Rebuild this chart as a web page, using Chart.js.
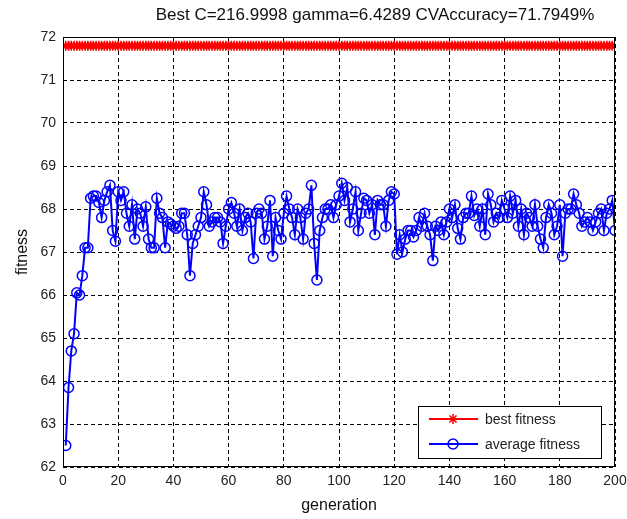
<!DOCTYPE html>
<html>
<head>
<meta charset="utf-8">
<script src="https://cdn.jsdelivr.net/npm/chart.js@4/dist/chart.umd.min.js"></script>
<style>
  html, body { margin: 0; padding: 0; background: #fff; }
  #wrap { width: 627px; height: 519px; }
</style>
</head>
<body>
<div id="wrap"><canvas id="myChart" width="627" height="519"></canvas></div>
<script>
const titleText = 'Best C=216.9998 gamma=6.4289 CVAccuracy=71.7949%';
const bestAccuracy = 71.7949;
const yTicks = [62, 63, 64, 65, 66, 67, 68, 69, 70, 71, 72];
const xTicks = [0, 20, 40, 60, 80, 100, 120, 140, 160, 180, 200];
const averageFitness = [
    62.5, 63.85, 64.7, 65.1, 66.05, 66.0, 66.45, 67.1, 67.1, 68.25,
    68.3, 68.3, 68.15, 67.8, 68.2, 68.4, 68.55, 67.5, 67.25, 68.4,
    68.2, 68.4, 67.9, 67.6, 68.1, 67.3, 68.0, 67.9, 67.6, 68.05,
    67.3, 67.1, 67.1, 68.25, 67.9, 67.8, 67.1, 67.7, 67.65, 67.6,
    67.55, 67.6, 67.9, 67.9, 67.4, 66.45, 67.2, 67.4, 67.6, 67.8,
    68.4, 68.1, 67.6, 67.7, 67.8, 67.8, 67.7, 67.2, 67.6, 68.0,
    68.15, 67.9, 67.6, 68.0, 67.5, 67.8, 67.9, 67.7, 66.85, 67.9,
    68.0, 67.9, 67.3, 67.6, 68.2, 66.9, 67.8, 67.5, 67.3, 67.9,
    68.3, 68.0, 67.8, 67.4, 68.0, 67.8, 67.3, 67.9, 68.0, 68.55,
    67.2, 66.35, 67.5, 67.8, 68.0, 68.0, 68.1, 67.8, 68.1, 68.3,
    68.6, 68.2, 68.5, 67.7, 68.0, 68.4, 67.5, 67.9, 68.25, 68.2,
    67.9, 68.1, 67.4, 68.2, 68.1, 68.1, 67.6, 68.2, 68.4, 68.35,
    66.95, 67.4, 67.0, 67.3, 67.5, 67.5, 67.35, 67.5, 67.8, 67.6,
    67.9, 67.6, 67.4, 66.8, 67.6, 67.5, 67.7, 67.4, 67.7, 68.0,
    67.8, 68.1, 67.55, 67.3, 67.8, 67.9, 67.9, 68.3, 67.85, 68.0,
    67.6, 68.0, 67.4, 68.35, 68.1, 67.7, 67.9, 67.8, 68.2, 68.0,
    67.8, 68.3, 67.9, 68.2, 67.6, 68.0, 67.4, 67.9, 67.8, 67.6,
    68.1, 67.6, 67.3, 67.1, 67.8, 68.1, 67.9, 67.4, 67.6, 68.1,
    66.9, 67.9, 68.0, 68.0, 68.35, 68.1, 67.9, 67.6, 67.7, 67.8,
    67.7, 67.5, 67.7, 67.9, 68.0, 67.5, 67.9, 68.0, 68.2, 67.5
];
const generations = averageFitness.map((v, i) => i + 1);
const bestFitness = generations.map(() => bestAccuracy);

const FONT = 'Arial, "Liberation Sans", sans-serif';

// frame, title and legend drawn the matlab way
const matlabLook = {
    id: 'matlabLook',
    afterDraw(chart) {
        const ctx = chart.ctx;
        const a = chart.chartArea;
        ctx.save();
        ctx.strokeStyle = '#000';
        ctx.lineWidth = 1;
        ctx.setLineDash([]);
        ctx.strokeRect(a.left + 0.5, a.top + 0.5, a.right - a.left - 1, a.bottom - a.top - 1);

        // title
        ctx.fillStyle = '#111';
        ctx.font = '17px ' + FONT;
        ctx.textAlign = 'center';
        ctx.textBaseline = 'middle';
        ctx.fillText(titleText, 375, 15);

        // legend box
        const lx = 418, ly = 406, lw = 183, lh = 52;
        ctx.fillStyle = '#fff';
        ctx.fillRect(lx, ly, lw, lh);
        ctx.strokeRect(lx + 0.5, ly + 0.5, lw, lh);
        const rows = [
            { ds: chart.data.datasets[0], y: 419 },
            { ds: chart.data.datasets[1], y: 444 }
        ];
        rows.forEach(r => {
            ctx.strokeStyle = r.ds.borderColor;
            ctx.lineWidth = 2;
            ctx.beginPath();
            ctx.moveTo(429, r.y);
            ctx.lineTo(478, r.y);
            ctx.stroke();
            ctx.fillStyle = r.ds.pointBackgroundColor;
            ctx.strokeStyle = r.ds.pointBorderColor;
            ctx.lineWidth = r.ds.pointBorderWidth;
            Chart.helpers.drawPoint(ctx, {
                pointStyle: r.ds.pointStyle,
                radius: r.ds.pointRadius,
                borderWidth: r.ds.pointBorderWidth,
                rotation: 0
            }, 453, r.y);
            ctx.fillStyle = '#222';
            ctx.font = '14px ' + FONT;
            ctx.textAlign = 'left';
            ctx.fillText(r.ds.label, 485, r.y + 1);
        });
        ctx.restore();
    }
};

new Chart('myChart', {
    type: 'line',
    data: {
        datasets: [{
            label: 'best fitness',
            data: generations.map((g, i) => ({ x: g, y: bestFitness[i] })),
            borderColor: '#ff0000',
            backgroundColor: '#ff0000',
            borderWidth: 2,
            pointStyle: 'star',
            pointRadius: 5,
            pointBorderWidth: 1.5,
            pointBorderColor: '#ff0000',
            pointBackgroundColor: '#ff0000'
        }, {
            label: 'average fitness',
            data: generations.map((g, i) => ({ x: g, y: averageFitness[i] })),
            borderColor: '#0000ff',
            backgroundColor: 'rgba(0,0,0,0)',
            borderWidth: 2,
            pointStyle: 'circle',
            pointRadius: 5,
            pointBorderWidth: 1.5,
            pointBorderColor: '#0000ff',
            pointBackgroundColor: 'rgba(0,0,0,0)'
        }]
    },
    options: {
        responsive: false,
        animation: false,
        layout: { padding: { top: 37, right: 0, left: 0, bottom: 0 } },
        plugins: {
            legend: { display: false },
            title: { display: false },
            tooltip: { enabled: false }
        },
        scales: {
            x: {
                type: 'linear',
                min: 0,
                max: 200,
                afterBuildTicks: s => { s.ticks = xTicks.map(v => ({ value: v })); },
                afterFit: s => { s.height = 52; s.paddingRight = 12; s.paddingLeft = 0; },
                ticks: { color: '#222', font: { size: 14, family: FONT }, padding: 6, maxRotation: 0 },
                grid: { color: '#000', lineWidth: 1, drawTicks: false },
                border: { display: false, dash: [4, 3] },
                title: { display: true, text: 'generation', color: '#111', font: { size: 16, family: FONT }, padding: { top: 0, bottom: 4 } }
            },
            y: {
                min: 62,
                max: 72,
                afterBuildTicks: s => { s.ticks = yTicks.map(v => ({ value: v })); },
                afterFit: s => { s.width = 63; },
                ticks: { color: '#222', font: { size: 14, family: FONT }, padding: 7 },
                grid: { color: '#000', lineWidth: 1, drawTicks: false },
                border: { display: false, dash: [4, 3] },
                title: { display: true, text: 'fitness', color: '#111', font: { size: 16, family: FONT }, padding: { top: 13, bottom: 0 } }
            }
        }
    },
    plugins: [matlabLook]
});
</script>
</body>
</html>
